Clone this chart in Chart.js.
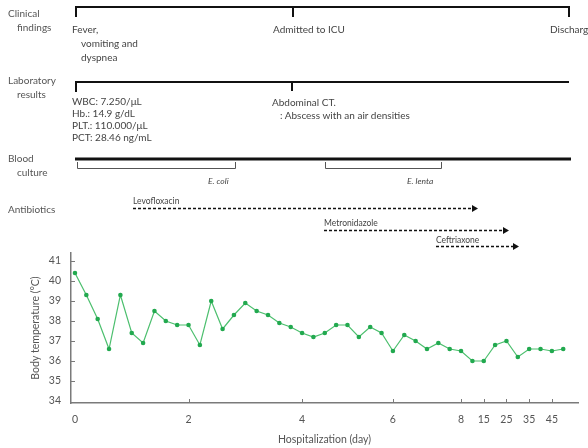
<!DOCTYPE html>
<html>
<head>
<meta charset="utf-8">
<script src="https://cdn.jsdelivr.net/npm/chart.js@4.4.1/dist/chart.umd.min.js"></script>
<style>
  html, body { margin: 0; padding: 0; background: #fff; overflow: hidden; }
  #wrap { position: relative; width: 588px; height: 448px; overflow: hidden; }
  #chart { position: absolute; left: 0; top: 0; }
  .t { position: absolute; font-family: Lato, "Noto Sans", sans-serif; font-size: 10px; line-height: 12px; color: #444; white-space: nowrap; }
  .side { color: #555; }
  .small { font-size: 8.5px; line-height: 10px; }
  .it { font-style: italic; font-size: 8.5px; line-height: 10px; }
</style>
</head>
<body>
<div id="wrap">
  <canvas id="chart" width="588" height="448"></canvas>

  <!-- left hand labels -->
  <div class="t side" style="left:8px; top:7px;">Clinical</div>
  <div class="t side" style="left:17px; top:21px;">findings</div>
  <div class="t side" style="left:8px; top:74px;">Laboratory</div>
  <div class="t side" style="left:17px; top:88px;">results</div>
  <div class="t side" style="left:8px; top:152px;">Blood</div>
  <div class="t side" style="left:17px; top:166px;">culture</div>
  <div class="t side" style="left:8px; top:203px;">Antibiotics</div>

  <!-- clinical findings -->
  <div class="t" style="left:72px; top:23px;">Fever,</div>
  <div class="t" style="left:81px; top:37px;">vomiting and</div>
  <div class="t" style="left:81px; top:51px;">dyspnea</div>
  <div class="t" style="left:273px; top:23px;">Admitted to ICU</div>
  <div class="t" style="left:550px; top:23px;">Discharge</div>

  <!-- laboratory results -->
  <div class="t" style="left:72px; top:95px;">WBC: 7.250/μL</div>
  <div class="t" style="left:72px; top:107px;">Hb.: 14.9 g/dL</div>
  <div class="t" style="left:72px; top:119px;">PLT.: 110.000/μL</div>
  <div class="t" style="left:72px; top:131px;">PCT: 28.46 ng/mL</div>
  <div class="t" style="left:272px; top:96px;">Abdominal CT.</div>
  <div class="t" style="left:280px; top:109px;">: Abscess with an air densities</div>

  <!-- blood culture -->
  <div class="t it" style="left:208px; top:176px;">E. coli</div>
  <div class="t it" style="left:407px; top:176px;">E. lenta</div>

  <!-- antibiotics -->
  <div class="t small" style="left:133px; top:196px;">Levofloxacin</div>
  <div class="t small" style="left:324px; top:218px;">Metronidazole</div>
  <div class="t small" style="left:436px; top:235px;">Ceftriaxone</div>
</div>

<script>
// body temperature, one value per measurement (left to right)
const temps = [40.4, 39.3, 38.1, 36.6, 39.3, 37.4, 36.9, 38.5, 38.0, 37.8,
               37.8, 36.8, 39.0, 37.6, 38.3, 38.9, 38.5, 38.3, 37.9, 37.7,
               37.4, 37.2, 37.4, 37.8, 37.8, 37.2, 37.7, 37.4, 36.5, 37.3,
               37.0, 36.6, 36.9, 36.6, 36.5, 36.0, 36.0, 36.8, 37.0, 36.2,
               36.6, 36.6, 36.5, 36.6];

// which measurement gets a day label on the x axis
const tickPositions = [0, 10, 20, 28, 34, 36, 38, 40, 42];
const tickLabels = ['0', '2', '4', '6', '8', '15', '25', '35', '45'];

// y axis ticks
const yTicks = [34, 35, 36, 37, 38, 39, 40, 41];

const axisColor = '#7a7a7a';
const textColor = '#555';
const green = '#22a94f';

let points = temps.map((t, i) => ({ x: i, y: t }));


// draws the timeline above the chart (brackets and arrows)
const timelinePlugin = {
  id: 'timeline',
  afterDraw(chart) {
    const c = chart.ctx;
    c.save();
    c.strokeStyle = '#111';
    c.lineCap = 'butt';

    // clinical findings
    c.lineWidth = 2;
    c.beginPath();
    c.moveTo(76, 17); c.lineTo(76, 7); c.lineTo(569, 7); c.lineTo(569, 17);
    c.moveTo(293, 7); c.lineTo(293, 17);
    c.stroke();

    // laboratory results
    c.beginPath();
    c.moveTo(76, 92); c.lineTo(76, 82); c.lineTo(569, 82);
    c.moveTo(292, 82); c.lineTo(292, 91);
    c.stroke();

    // blood culture
    c.lineWidth = 3;
    c.beginPath();
    c.moveTo(75, 159); c.lineTo(571, 159);
    c.stroke();

    c.lineWidth = 1;
    c.strokeStyle = '#555';
    c.beginPath();
    c.moveTo(77.5, 162); c.lineTo(77.5, 168.5); c.lineTo(235.5, 168.5); c.lineTo(235.5, 162);
    c.moveTo(325.5, 162); c.lineTo(325.5, 168.5); c.lineTo(441.5, 168.5); c.lineTo(441.5, 162);
    c.stroke();

    // antibiotics
    drawArrow(c, 133, 478, 208.5);
    drawArrow(c, 324, 509, 230.5);
    drawArrow(c, 436, 519, 246.5);

    // small inward ticks on both axes
    const xs = chart.scales.x;
    const ys = chart.scales.y;
    c.strokeStyle = axisColor;
    c.lineWidth = 1;
    c.beginPath();
    tickPositions.forEach(p => {
      if (p === 0) return;
      const px = Math.round(xs.getPixelForValue(p)) + 0.5;
      c.moveTo(px, ys.bottom); c.lineTo(px, ys.bottom - 4);
    });
    yTicks.forEach(v => {
      if (v === 34) return;
      const py = Math.round(ys.getPixelForValue(v)) + 0.5;
      c.moveTo(xs.left, py); c.lineTo(xs.left + 4, py);
    });
    c.stroke();
    c.restore();
  }
};


function drawArrow(c, x1, x2, y) {
  c.save();
  c.strokeStyle = '#111';
  c.fillStyle = '#111';
  c.lineWidth = 1.5;
  c.setLineDash([3, 2]);
  c.beginPath();
  c.moveTo(x1, y); c.lineTo(x2 - 5, y);
  c.stroke();
  c.setLineDash([]);
  c.beginPath();
  c.moveTo(x2, y); c.lineTo(x2 - 6, y - 3.5); c.lineTo(x2 - 6, y + 3.5);
  c.closePath();
  c.fill();
  c.restore();
}


new Chart(document.getElementById('chart'), {
  type: 'line',
  data: {
    datasets: [{
      data: points,
      borderColor: '#4cbf6e',
      borderWidth: 1.2,
      pointBackgroundColor: green,
      pointBorderColor: green,
      pointRadius: 2.3,
      pointBorderWidth: 0,
      tension: 0,
    }]
  },
  options: {
    responsive: false,
    animation: false,
    events: [],
    layout: { padding: { left: 0, right: 10, top: 253, bottom: 0 } },
    plugins: {
      legend: { display: false },
      tooltip: { enabled: false },
    },
    scales: {
      x: {
        type: 'linear',
        min: -0.35,
        max: 44.3,
        afterBuildTicks(scale) {
          scale.ticks = tickPositions.map(v => ({ value: v }));
        },
        afterFit(scale) { scale.height = 45; },
        grid: { display: false },
        border: { display: true, color: axisColor, width: 1.5 },
        ticks: {
          autoSkip: false,
          maxRotation: 0,
          padding: 2,
          color: textColor,
          font: { family: 'Lato', size: 10.5 },
          callback(value) {
            let idx = tickPositions.indexOf(value);
            return idx >= 0 ? tickLabels[idx] : '';
          }
        },
        title: {
          display: true,
          text: 'Hospitalization (day)',
          color: textColor,
          font: { family: 'Lato', size: 10.5 },
          padding: { top: 0, bottom: 2 },
        }
      },
      y: {
        min: 33.9,
        max: 41.4,
        afterBuildTicks(scale) {
          scale.ticks = yTicks.map(v => ({ value: v }));
        },
        afterFit(scale) { scale.width = 71; },
        grid: { display: false },
        border: { display: true, color: axisColor, width: 1.5 },
        ticks: {
          padding: 2,
          color: textColor,
          font: { family: 'Lato', size: 10.5 },
        },
        title: {
          display: true,
          text: 'Body temperature (°C)',
          color: textColor,
          font: { family: 'Lato', size: 10.5 },
          padding: { top: 29, bottom: 0 },
        }
      }
    }
  },
  plugins: [timelinePlugin]
});
</script>
</body>
</html>
